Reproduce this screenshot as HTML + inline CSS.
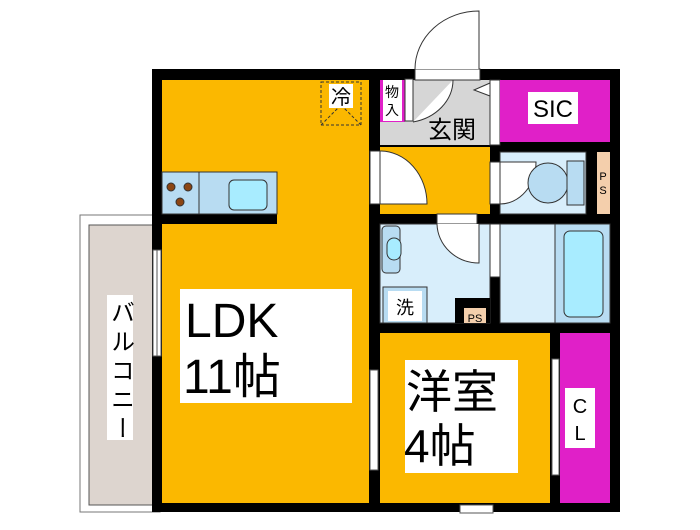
<!DOCTYPE html>
<html><head><meta charset="utf-8"><style>
body{margin:0;background:#fff}
svg text{font-family:"Liberation Sans","Noto Sans CJK JP",sans-serif}
</style></head><body>
<svg width="700" height="525" viewBox="0 0 700 525" xmlns="http://www.w3.org/2000/svg">
<rect x="80" y="215" width="80" height="297" fill="#fff" stroke="#777" stroke-width="1"/>
<rect x="89" y="225" width="70" height="280" fill="#ddd5cf" stroke="#555" stroke-width="1"/>
<rect x="107" y="295" width="26" height="145" fill="#fff"/>
<text x="120" y="300" font-size="24" text-anchor="start" writing-mode="tb" letter-spacing="5">バルコニー</text>
<rect x="152" y="69" width="468" height="443" fill="#000"/>
<rect x="162" y="80" width="207" height="423" fill="#fbb800"/>
<rect x="162" y="172" width="115" height="52" fill="#000"/>
<rect x="162" y="172" width="115" height="42" fill="#b8dcf2" stroke="#333" stroke-width="1"/>
<line x1="199" y1="172" x2="199" y2="214" stroke="#333"/>
<rect x="229" y="180" width="38" height="30" rx="5" fill="#a8ecff" stroke="#333"/>
<circle cx="171" cy="187" r="4" fill="#8b4513" stroke="#333"/>
<circle cx="188" cy="187" r="4" fill="#8b4513" stroke="#333"/>
<circle cx="180" cy="202" r="4" fill="#8b4513" stroke="#333"/>
<rect x="321" y="82" width="40" height="43" fill="none" stroke="#333" stroke-dasharray="3,2"/>
<line x1="321" y1="125" x2="341" y2="105" stroke="#333" stroke-dasharray="3,2"/>
<line x1="361" y1="125" x2="341" y2="105" stroke="#333" stroke-dasharray="3,2"/>
<rect x="329" y="84" width="24" height="24" fill="#fff"/>
<text x="341" y="104" font-size="20" text-anchor="middle">冷</text>
<rect x="180" y="289" width="172" height="114" fill="#fff"/>
<text x="185" y="337" font-size="48">LDK</text>
<text x="183" y="393" font-size="48">11帖</text>
<rect x="153" y="250" width="8" height="106" fill="#fff" stroke="#555" stroke-width="1"/>
<line x1="157" y1="250" x2="157" y2="356" stroke="#555"/>
<rect x="380" y="80" width="110" height="65" fill="#d6d6d6"/>
<rect x="380" y="80" width="25" height="42" fill="#e020c8"/>
<rect x="383" y="80" width="19" height="41" fill="#fff"/>
<text x="392" y="97" font-size="14" text-anchor="middle">物</text>
<text x="392" y="115" font-size="14" text-anchor="middle">入</text>
<rect x="405" y="79" width="8" height="42" fill="#fff" stroke="#333"/>
<path d="M413 122 A 50 43 0 0 0 453 80" fill="#fff" stroke="#333"/>
<polygon points="490,83 474,90 490,96" fill="#fff" stroke="#333"/>
<rect x="490" y="80" width="10" height="65" fill="#fff" stroke="#333"/>
<text x="428" y="138" font-size="24">玄関</text>
<rect x="415" y="69" width="65" height="11" fill="#fff" stroke="#333"/>
<path d="M415 69 A 64 58 0 0 1 479 11 L479 69" fill="#fff" stroke="#333"/>
<rect x="500" y="80" width="110" height="62" fill="#e020c8"/>
<rect x="528" y="92" width="50" height="32" fill="#fff"/>
<text x="553" y="117" font-size="24" text-anchor="middle">SIC</text>
<rect x="380" y="147" width="110" height="67" fill="#fbb800"/>
<rect x="370" y="151" width="10" height="53" fill="#fff" stroke="#333"/>
<path d="M380 151 L380 204 L427 204 A 47 53 0 0 0 380 151" fill="#fff" stroke="#333"/>
<rect x="500" y="152" width="86" height="62" fill="#d8eefb" stroke="#333"/>
<rect x="490" y="162" width="10" height="42" fill="#fff" stroke="#333"/>
<path d="M500 162 L536 162 A 36 42 0 0 1 500 204 Z" fill="#fff" stroke="#333"/>
<ellipse cx="548" cy="183" rx="20" ry="20" fill="#b8dcf2" stroke="#333"/>
<rect x="567" y="161" width="17" height="44" fill="#b8dcf2" stroke="#333"/>
<rect x="597" y="152" width="13" height="62" fill="#f4cfac"/>
<text x="603" y="180" font-size="11" text-anchor="middle">P</text>
<text x="603" y="194" font-size="11" text-anchor="middle">S</text>
<rect x="380" y="224" width="110" height="99" fill="#d8eefb" stroke="#333"/>
<rect x="455" y="298" width="35" height="25" fill="#000"/>
<rect x="464" y="308" width="22" height="15" fill="#f4cfac"/>
<text x="475" y="322" font-size="11" text-anchor="middle">PS</text>
<rect x="382" y="226" width="18" height="47" rx="4" fill="#b8dcf2" stroke="#333"/>
<rect x="387" y="238" width="14" height="22" rx="7" fill="#a8ecff" stroke="#333"/>
<rect x="383" y="287" width="44" height="36" fill="#b8dcf2" stroke="#333"/>
<rect x="388" y="291" width="34" height="30" fill="#fff"/>
<text x="405" y="314" font-size="18" text-anchor="middle">洗</text>
<rect x="437" y="214" width="40" height="10" fill="#fff" stroke="#333"/>
<path d="M437 224 A 42 40 0 0 0 479 263 L479 224" fill="#fff" stroke="#333"/>
<rect x="490" y="224" width="10" height="53" fill="#fff" stroke="#333"/>
<polygon points="500,227 518,234 500,240" fill="#fff" stroke="#333"/>
<rect x="500" y="224" width="55" height="99" fill="#d8eefb" stroke="#333"/>
<rect x="555" y="224" width="55" height="99" fill="#b8dcf2" stroke="#333"/>
<rect x="564" y="231" width="39" height="86" rx="6" fill="#a8ecff" stroke="#333"/>
<rect x="380" y="333" width="170" height="170" fill="#fbb800"/>
<rect x="405" y="360" width="113" height="113" fill="#fff"/>
<text x="406" y="408" font-size="46">洋室</text>
<text x="404" y="462" font-size="46">4帖</text>
<rect x="370" y="370" width="8" height="100" fill="#fff" stroke="#555"/>
<rect x="552" y="359" width="7" height="116" fill="#fff" stroke="#555"/>
<rect x="460" y="505" width="33" height="8" fill="#fff" stroke="#555"/>
<rect x="560" y="333" width="50" height="170" fill="#e020c8"/>
<rect x="565" y="388" width="30" height="60" fill="#fff"/>
<text x="580" y="413" font-size="20" text-anchor="middle">C</text>
<text x="580" y="440" font-size="20" text-anchor="middle">L</text>
</svg>
</body></html>
